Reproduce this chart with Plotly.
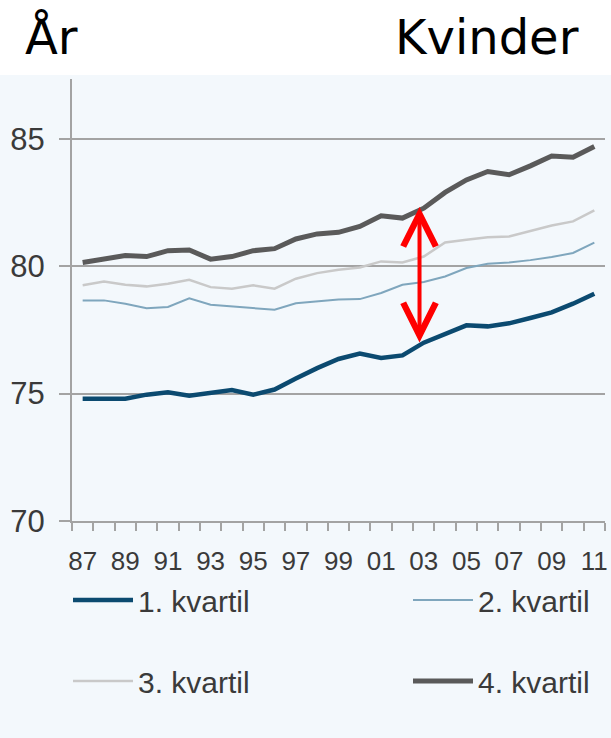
import plotly.graph_objects as go

years = list(range(1987, 2012))
q1 = [74.80, 74.78, 74.80, 74.96, 75.05, 74.92, 75.05, 75.14, 74.96, 75.16, 75.59, 76.00, 76.36,
      76.57, 76.40, 76.50, 77.00, 77.33, 77.68, 77.64, 77.76, 77.97, 78.19, 78.53, 78.92]
q2 = [78.66, 78.66, 78.53, 78.35, 78.40, 78.74, 78.49, 78.42, 78.35, 78.29, 78.55, 78.62, 78.69,
      78.71, 78.95, 79.27, 79.38, 79.60, 79.93, 80.10, 80.15, 80.24, 80.36, 80.52, 80.93]
q3 = [79.25, 79.40, 79.27, 79.21, 79.31, 79.47, 79.18, 79.12, 79.25, 79.12, 79.51, 79.73, 79.86,
      79.95, 80.19, 80.15, 80.38, 80.93, 81.04, 81.14, 81.17, 81.37, 81.60, 81.76, 82.19]
q4 = [80.15, 80.28, 80.42, 80.38, 80.61, 80.64, 80.28, 80.38, 80.61, 80.69, 81.07, 81.27, 81.33,
      81.56, 81.98, 81.89, 82.28, 82.90, 83.39, 83.72, 83.59, 83.94, 84.33, 84.28, 84.70]
series_names = ["1. kvartil", "2. kvartil", "3. kvartil", "4. kvartil"]
tick_years = list(range(1987, 2012, 2))
tick_labels = ["87", "89", "91", "93", "95", "97", "99", "01", "03", "05", "07", "09", "11"]
y_ticks = [70, 75, 80, 85]
arrow_year = 2003
title_left = "År"
title_right = "Kvinder"

W, H = 611, 738
ML, MR, MT, MB = 72, 6, 79, 217
PW, PH = W - ML - MR, H - MT - MB
BG = "#F3F8FC"
GRID = "#A3A3A3"
TXT = "#3A3A3A"


def px_x(px):
    return (px - ML) / PW


def px_y(py):
    return (H - MB - py) / PH


styles = [
    dict(color="#0B4A70", width=4.5),
    dict(color="#7FA6BD", width=2),
    dict(color="#C9C9C9", width=2.5),
    dict(color="#5A5A5A", width=5),
]
legend_ids = ["legend", "legend2", "legend3", "legend4"]

fig = go.Figure()
for name, vals, st, lg in zip(series_names, [q1, q2, q3, q4], styles, legend_ids):
    fig.add_trace(go.Scatter(x=years, y=vals, mode="lines", name=name,
                             line=dict(color=st["color"], width=st["width"]),
                             legend=lg, hoverinfo="skip"))

# arrow between 1. and 4. kvartil
ai = years.index(arrow_year)
fig.add_annotation(x=arrow_year - 0.2, y=q4[ai] + 0.05, ax=arrow_year - 0.2, ay=q1[ai] - 0.05,
                   xref="x", yref="y", axref="x", ayref="y", text="",
                   showarrow=True, arrowhead=5, startarrowhead=5, arrowside="end+start",
                   arrowwidth=4, arrowsize=1.6, startarrowsize=1.6, arrowcolor="#FF0000", standoff=0,
                   startstandoff=0)

fig.add_annotation(x=px_x(23), y=px_y(37), xref="paper", yref="paper", text=title_left,
                   showarrow=False, xanchor="left", yanchor="middle",
                   font=dict(family="DejaVu Sans", size=48, color="#000000"))
fig.add_annotation(x=px_x(581), y=px_y(37), xref="paper", yref="paper", text=title_right,
                   showarrow=False, xanchor="right", yanchor="middle",
                   font=dict(family="DejaVu Sans", size=48, color="#000000"))

# white band at top
fig.add_shape(type="rect", xref="paper", yref="paper", x0=px_x(0), x1=px_x(W), y0=px_y(75), y1=px_y(0),
              fillcolor="#FFFFFF", line=dict(width=0), layer="above")

leg_font = dict(family="Liberation Sans, Arial", size=30, color=TXT)
leg_pos = [(68, 600), (408, 600), (68, 681), (408, 681)]
legends = {}
for lg, (lx, ly) in zip(legend_ids, leg_pos):
    legends[lg] = dict(x=px_x(lx), y=px_y(ly), xanchor="left", yanchor="middle",
                       bgcolor="rgba(0,0,0,0)", font=leg_font, itemwidth=60)

fig.update_layout(
    width=W, height=H,
    margin=dict(l=ML, r=MR, t=MT, b=MB, autoexpand=False),
    paper_bgcolor=BG, plot_bgcolor=BG,
    showlegend=True,
    **legends,
    xaxis=dict(range=[1986.5, 2011.5], tickmode="array", tickvals=tick_years, ticktext=tick_labels,
               ticks="", showgrid=False, zeroline=False,
               showline=True, linecolor=GRID, linewidth=2,
               tickfont=dict(family="Liberation Sans, Arial", size=26, color=TXT),
               ticklabelstandoff=16,
               minor=dict(tickmode="array", tickvals=[y - 0.5 for y in years] + [2011.5],
                          ticks="outside", ticklen=8, tickcolor=GRID, tickwidth=2, showgrid=False)),
    yaxis=dict(range=[70, 87.35], tickmode="array", tickvals=y_ticks,
               ticks="outside", ticklen=11, tickcolor=GRID, tickwidth=2,
               showgrid=True, gridcolor=GRID, gridwidth=2, zeroline=False,
               showline=True, linecolor=GRID, linewidth=2,
               tickfont=dict(family="Liberation Sans, Arial", size=31, color=TXT),
               ticklabelstandoff=8),
)

fig.write_html("out.html", config={"displayModeBar": False},
               post_script="document.body.style.margin='0';")
